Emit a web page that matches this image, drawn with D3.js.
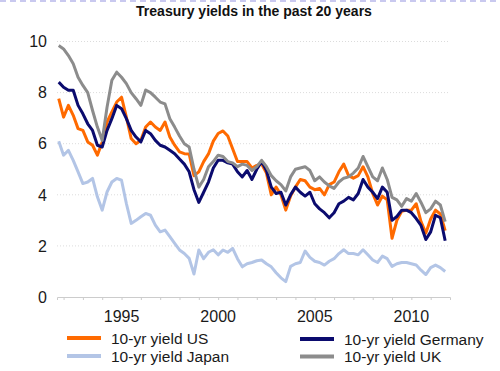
<!DOCTYPE html>
<html>
<head>
<meta charset="utf-8">
<script src="https://cdn.jsdelivr.net/npm/d3@7"></script>
<style>
  body { margin: 0; background: #fff; }
  svg { display: block; font-family: "Liberation Sans", Arial, sans-serif; }
</style>
</head>
<body>
<div id="chart"></div>
<script>
// quarterly observations, decimal years
const dates = [
  1991.75,
  1992.0, 1992.25, 1992.5, 1992.75, 1993.0, 1993.25, 1993.5, 1993.75,
  1994.0, 1994.25, 1994.5, 1994.75, 1995.0, 1995.25, 1995.5, 1995.75,
  1996.0, 1996.25, 1996.5, 1996.75, 1997.0, 1997.25, 1997.5, 1997.75,
  1998.0, 1998.25, 1998.5, 1998.75, 1999.0, 1999.25, 1999.5, 1999.75,
  2000.0, 2000.25, 2000.5, 2000.75, 2001.0, 2001.25, 2001.5, 2001.75,
  2002.0, 2002.25, 2002.5, 2002.75, 2003.0, 2003.25, 2003.5, 2003.75,
  2004.0, 2004.25, 2004.5, 2004.75, 2005.0, 2005.25, 2005.5, 2005.75,
  2006.0, 2006.25, 2006.5, 2006.75, 2007.0, 2007.25, 2007.5, 2007.75,
  2008.0, 2008.25, 2008.5, 2008.75, 2009.0, 2009.25, 2009.5, 2009.75,
  2010.0, 2010.25, 2010.5, 2010.75, 2011.0, 2011.25, 2011.5, 2011.75
];

const yieldUS = [
  7.76,
  7.04, 7.5, 7.11, 6.59, 6.52, 6.07, 5.94, 5.55,
  6.07, 6.85, 7.24, 7.63, 7.82, 7.04, 6.2, 6.0,
  6.13, 6.65, 6.85, 6.65, 6.52, 6.85, 6.26, 5.94,
  5.68, 5.61, 5.6, 4.75, 4.9, 5.3, 5.6, 6.1,
  6.4, 6.5, 6.3, 5.8, 5.3, 5.3, 5.3, 5.05,
  5.15, 5.2, 4.85, 4.0, 4.3, 4.0, 3.4, 3.95,
  4.3, 4.6, 4.55, 4.3, 4.2, 4.25, 4.0, 4.4,
  4.5, 4.9, 5.2, 4.75, 4.65, 4.75, 5.1, 4.7,
  4.05, 3.6, 3.95, 3.8, 2.3, 3.0, 3.35, 3.4,
  3.4, 3.65, 2.95, 2.5, 3.05, 3.4, 3.25, 2.6
];

const yieldGermany = [
  8.41,
  8.21, 8.09, 8.09, 7.5, 7.17, 6.78, 6.52, 5.94,
  5.87, 6.52, 6.98, 7.5, 7.37, 6.98, 6.52, 6.26,
  6.07, 6.52, 6.39, 6.13, 5.94, 5.87, 5.74, 5.61,
  5.4, 5.2, 4.9, 4.2, 3.7, 4.1, 4.5, 5.05,
  5.35, 5.35, 5.25, 5.2, 4.9, 4.7, 4.95, 4.6,
  5.0, 5.3, 4.95, 4.3, 4.05, 4.1, 3.6, 4.0,
  4.3, 4.1, 3.95, 4.1, 3.65, 3.45, 3.3, 3.1,
  3.3, 3.65, 3.75, 3.9, 3.8, 4.05, 4.6, 4.3,
  4.1, 3.85, 4.3, 4.1, 3.0, 3.15, 3.4, 3.4,
  3.3, 3.07, 2.8, 2.25, 2.55, 3.2, 3.1, 2.2
];

const yieldJapan = [
  6.1,
  5.55, 5.74, 5.35, 4.9, 4.44, 4.5, 4.64, 3.92,
  3.4, 4.11, 4.5, 4.64, 4.57, 3.66, 2.88, 3.0,
  3.14, 3.27, 3.2, 2.81, 2.55, 2.62, 2.36, 2.1,
  1.84, 1.7, 1.51, 0.9, 1.84, 1.5, 1.75, 1.85,
  1.65, 1.84, 1.75, 1.9, 1.5, 1.18, 1.3, 1.35,
  1.42, 1.45, 1.3, 1.18, 0.95, 0.75, 0.6, 1.2,
  1.3, 1.35, 1.8, 1.55, 1.4, 1.35, 1.25, 1.4,
  1.5, 1.7, 1.85, 1.7, 1.7, 1.65, 1.85, 1.65,
  1.45, 1.35, 1.6, 1.5, 1.2, 1.3, 1.35, 1.35,
  1.3, 1.25, 1.05, 0.88, 1.15, 1.25, 1.15, 1.0
];

const yieldUK = [
  9.84,
  9.71, 9.45, 9.13, 8.6, 8.28, 8.0, 7.3, 6.65,
  6.13, 7.43, 8.48, 8.8, 8.6, 8.35, 8.0, 7.76,
  7.5, 8.1, 8.0, 7.82, 7.63, 7.56, 6.98, 6.65,
  6.3, 6.0, 5.87, 5.0, 4.3, 4.6, 5.1, 5.3,
  5.55, 5.5, 5.3, 5.25, 5.1, 5.2, 5.15, 4.95,
  5.1, 5.35, 5.1, 4.75, 4.55, 4.4, 4.15, 4.7,
  5.0, 5.05, 5.1, 4.95, 4.55, 4.7, 4.5, 4.35,
  4.25, 4.5, 4.65, 4.7, 4.85, 5.05, 5.5, 5.1,
  4.7, 4.55, 5.05, 4.6, 3.9, 3.8, 3.55, 3.85,
  3.75, 4.05, 3.7, 3.3, 3.45, 3.75, 3.6, 2.95
];

const seriesNames = ["10-yr yield US", "10-yr yield Germany", "10-yr yield Japan", "10-yr yield UK"];
const seriesColors = ["#ff6a00", "#0b0b6e", "#b3c5e6", "#8c8c8c"];
const yTicks = [0, 2, 4, 6, 8, 10];
const xLabels = [1995, 2000, 2005, 2010];
const yearTicks = d3.range(1992, 2012);

const width = 500, height = 371;

const svg = d3.select("#chart")
    .append("svg")
    .attr("width", width)
    .attr("height", height);

// dashed border along the top
svg.append("line")
    .attr("x1", 0).attr("x2", width)
    .attr("y1", 1).attr("y2", 1)
    .attr("stroke", "#c9c9ef")
    .attr("stroke-width", 2)
    .attr("stroke-dasharray", "6,4");

svg.append("text")
    .attr("x", 254)
    .attr("y", 16)
    .attr("text-anchor", "middle")
    .attr("font-size", 14)
    .attr("font-weight", "bold")
    .attr("fill", "#111")
    .text("Treasury yields in the past 20 years");

const x = d3.scaleLinear()
    .domain([1991.66, 2012.0])
    .range([57, 450]);

const y = d3.scaleLinear()
    .domain([0, 10])
    .range([297, 41.5]);

// gridlines
svg.append("g")
    .selectAll("line")
    .data(yTicks.filter(d => d > 0))
    .join("line")
    .attr("x1", x.range()[0])
    .attr("x2", x.range()[1])
    .attr("y1", d => y(d))
    .attr("y2", d => y(d))
    .attr("stroke", "#dcdcdc")
    .attr("stroke-width", 1)
    .attr("stroke-dasharray", "1,2");

// y labels
svg.append("g")
    .selectAll("text")
    .data(yTicks)
    .join("text")
    .attr("x", 47)
    .attr("y", d => y(d))
    .attr("dy", "0.36em")
    .attr("text-anchor", "end")
    .attr("font-size", 16)
    .attr("fill", "#1a1a1a")
    .text(d => d);

// x axis
const xAxis = svg.append("g")
    .attr("transform", `translate(0,${y(0)})`)
    .call(d3.axisBottom(x)
        .tickValues(yearTicks)
        .tickSize(3)
        .tickFormat(""));

xAxis.select(".domain").attr("stroke", "#cccccc");
xAxis.selectAll(".tick line").attr("stroke", "#cccccc");

svg.append("g")
    .selectAll("text")
    .data(xLabels)
    .join("text")
    .attr("x", d => x(d))
    .attr("y", 322)
    .attr("text-anchor", "middle")
    .attr("font-size", 16)
    .attr("fill", "#1a1a1a")
    .text(d => d);

// lines
const allSeries = [yieldUS, yieldGermany, yieldJapan, yieldUK];

const line = d3.line()
    .x((d, i) => x(dates[i]))
    .y(d => y(d))
    .curve(d3.curveLinear);

svg.append("g")
    .selectAll("path")
    .data(allSeries)
    .join("path")
    .attr("fill", "none")
    .attr("stroke", (d, i) => seriesColors[i])
    .attr("stroke-width", 3)
    .attr("stroke-linejoin", "round")
    .attr("d", line);

// legend, two columns
const legendPos = [
    { lx: 67, ly: 338 },
    { lx: 300, ly: 339 },
    { lx: 67, ly: 356 },
    { lx: 300, ly: 356.5 }
];

const legend = svg.append("g")
    .selectAll("g")
    .data(seriesNames)
    .join("g")
    .attr("transform", (d, i) => `translate(${legendPos[i].lx},${legendPos[i].ly})`);

legend.append("line")
    .attr("x1", 0).attr("x2", 34)
    .attr("stroke", (d, i) => seriesColors[i])
    .attr("stroke-width", 4);

legend.append("text")
    .attr("x", 44)
    .attr("dy", "0.36em")
    .attr("font-size", 15.5)
    .attr("fill", "#1a1a1a")
    .text(d => d);
</script>
</body>
</html>
